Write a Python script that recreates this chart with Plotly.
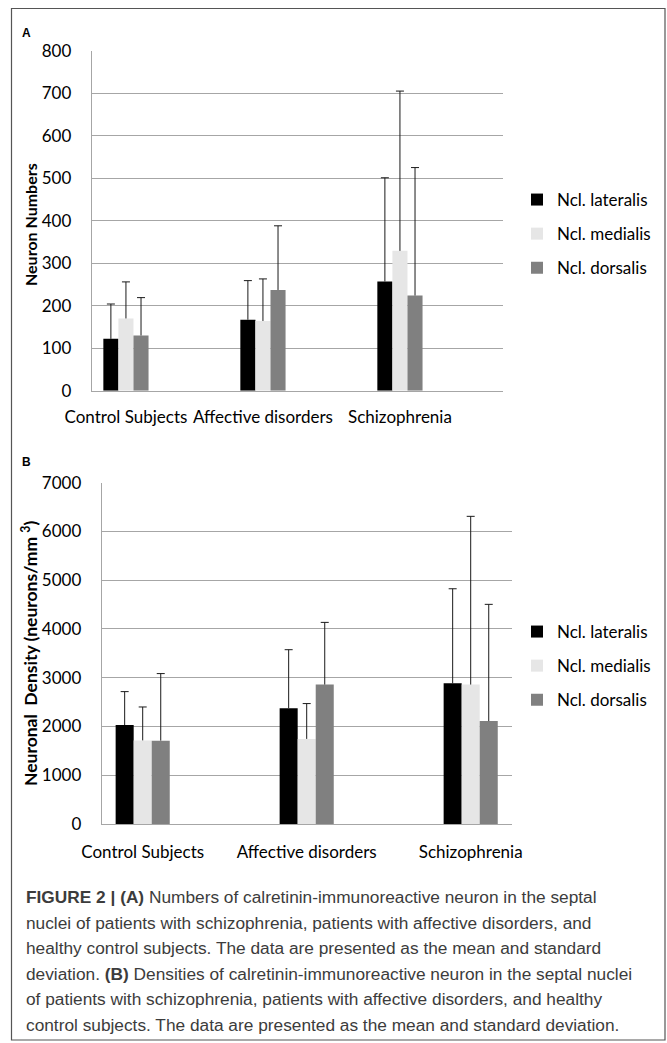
import plotly.graph_objects as go

W, H = 667, 1043

categories = ["Control Subjects", "Affective disorders", "Schizophrenia"]
series_names = ["Ncl. lateralis", "Ncl. medialis", "Ncl. dorsalis"]
series_colors = ["#000000", "#e6e6e6", "#808080"]

# Panel A: neuron numbers (mean, SD)
numbers_lateralis = [122, 167, 257]
numbers_medialis = [170, 164, 329]
numbers_dorsalis = [130, 237, 224]
numbers_lateralis_sd = [82, 92, 244]
numbers_medialis_sd = [86, 99, 376]
numbers_dorsalis_sd = [89, 151, 301]

# Panel B: neuronal density (mean, SD)
density_lateralis = [2030, 2375, 2885]
density_medialis = [1715, 1745, 2860]
density_dorsalis = [1710, 2860, 2110]
density_lateralis_sd = [685, 1200, 1940]
density_medialis_sd = [685, 725, 3450]
density_dorsalis_sd = [1375, 1275, 2395]

yticks_A = [0, 100, 200, 300, 400, 500, 600, 700, 800]
yticks_B = [0, 1000, 2000, 3000, 4000, 5000, 6000, 7000]

caption_lines = [
    "<b>FIGURE 2 | (A)</b> Numbers of calretinin-immunoreactive neuron in the septal",
    "nuclei of patients with schizophrenia, patients with affective disorders, and",
    "healthy control subjects. The data are presented as the mean and standard",
    "deviation. <b>(B)</b> Densities of calretinin-immunoreactive neuron in the septal nuclei",
    "of patients with schizophrenia, patients with affective disorders, and healthy",
    "control subjects. The data are presented as the mean and standard deviation.",
]


def px(x):
    return x / W


def py(y):
    return 1 - y / H


FONT = "Lato, Calibri, Carlito, sans-serif"
FS = 17
BW = 0.11

fig = go.Figure()

panels = [
    dict(
        means=[numbers_lateralis, numbers_medialis, numbers_dorsalis],
        sds=[numbers_lateralis_sd, numbers_medialis_sd, numbers_dorsalis_sd],
        xa="x", ya="y", legend="legend", cap=4 / 137,
    ),
    dict(
        means=[density_lateralis, density_medialis, density_dorsalis],
        sds=[density_lateralis_sd, density_medialis_sd, density_dorsalis_sd],
        xa="x2", ya="y2", legend="legend2", cap=4 / 164,
    ),
]

for p in panels:
    for j, (name, color) in enumerate(zip(series_names, series_colors)):
        xs = [i + (j - 1) * BW for i in range(len(categories))]
        fig.add_trace(go.Bar(
            x=xs, y=p["means"][j], width=BW, name=name,
            marker=dict(color=color, line=dict(width=0)),
            xaxis=p["xa"], yaxis=p["ya"], legend=p["legend"],
            legendgroup=p["legend"] + name,
        ))
    for j in range(len(series_names)):
        ex, ey = [], []
        for i in range(len(categories)):
            xc = i + (j - 1) * BW
            m = p["means"][j][i]
            top = m + p["sds"][j][i]
            ex += [xc, xc, None, xc - p["cap"], xc + p["cap"], None]
            ey += [m, top, None, top, top, None]
        fig.add_trace(go.Scatter(
            x=ex, y=ey, mode="lines", line=dict(color="#1a1a1a", width=1),
            showlegend=False, hoverinfo="skip",
            xaxis=p["xa"], yaxis=p["ya"],
        ))

grid = "#a6a6a6"
common_x = dict(
    tickvals=[0, 1, 2], ticktext=categories, showgrid=False, zeroline=False,
    showline=True, linecolor=grid, linewidth=1, ticks="", automargin=False,
    tickfont=dict(family=FONT, size=FS, color="#000"),
)
common_y = dict(
    showgrid=True, gridcolor=grid, gridwidth=1, zeroline=False,
    showline=True, linecolor=grid, linewidth=1, ticks="", automargin=False,
    tickfont=dict(family=FONT, size=FS, color="#000"),
    ticklabelstandoff=16,
)

fig.update_layout(
    template="none",
    width=W, height=H,
    margin=dict(l=0, r=0, t=0, b=0, autoexpand=False),
    paper_bgcolor="white", plot_bgcolor="white",
    barmode="overlay",
    xaxis=dict(domain=[px(91.7), px(502.7)], range=[-0.25, 2.75], anchor="y",
               ticklabelstandoff=11, **common_x),
    yaxis=dict(domain=[py(390.7), py(50.7)], range=[0, 800], anchor="x",
               tickvals=yticks_A, **common_y),
    xaxis2=dict(domain=[px(101.7), px(511.7)], range=[-0.25, 2.25], anchor="y2",
                ticklabelstandoff=13, **common_x),
    yaxis2=dict(domain=[py(824), py(482.7)], range=[0, 7000], anchor="x2",
                tickvals=yticks_B, **common_y),
    legend=dict(x=px(517), y=py(234), xanchor="left", yanchor="middle",
                font=dict(family=FONT, size=FS, color="#000"),
                tracegroupgap=9, bgcolor="rgba(0,0,0,0)", borderwidth=0),
    legend2=dict(x=px(517), y=py(666), xanchor="left", yanchor="middle",
                 font=dict(family=FONT, size=FS, color="#000"),
                 tracegroupgap=9, bgcolor="rgba(0,0,0,0)", borderwidth=0),
    showlegend=True,
)

annotations = [
    dict(text="<b>A</b>", x=px(26), y=py(33), xref="paper", yref="paper",
         xanchor="center", yanchor="middle", showarrow=False,
         font=dict(family="Liberation Sans, Arial", size=12, color="#000")),
    dict(text="<b>B</b>", x=px(27), y=py(462), xref="paper", yref="paper",
         xanchor="center", yanchor="middle", showarrow=False,
         font=dict(family="Liberation Sans, Arial", size=12, color="#000")),
    dict(text="<b>Neuron Numbers</b>", x=px(30), y=py(225), xref="paper", yref="paper",
         xanchor="center", yanchor="middle", textangle=-90, showarrow=False,
         font=dict(family=FONT, size=16, color="#000")),
    dict(text="<b>Neuronal  Density (neurons/mm <sup>3</sup>)</b>", x=px(29), y=py(654),
         xref="paper", yref="paper", xanchor="center", yanchor="middle",
         textangle=-90, showarrow=False,
         font=dict(family=FONT, size=17.5, color="#000")),
]
cap_y0 = 897
for k, line in enumerate(caption_lines):
    annotations.append(dict(
        text=line, x=px(24), y=py(cap_y0 + 25.6 * k), xref="paper", yref="paper",
        xanchor="left", yanchor="middle", showarrow=False,
        font=dict(family="Liberation Sans, Arial", size=17.3, color="#3c3c3c"),
    ))
fig.update_layout(annotations=annotations)

fig.add_shape(type="rect", xref="paper", yref="paper", layer="above",
              x0=px(11.5), x1=px(665), y0=py(1040), y1=py(8.5),
              line=dict(color="#555555", width=1.2, dash="solid"),
              fillcolor="rgba(0,0,0,0)")

fig.write_html("out.html", config={"displayModeBar": False},
               post_script="document.body.style.margin='0px';")
